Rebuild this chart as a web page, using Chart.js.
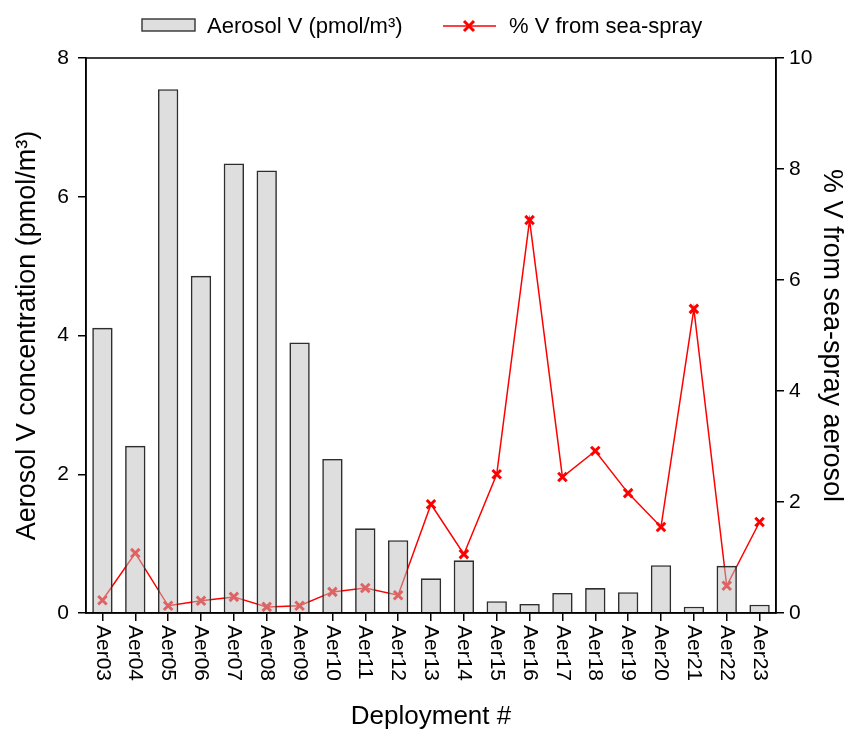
<!DOCTYPE html>
<html>
<head>
<meta charset="utf-8">
<script src="https://cdn.jsdelivr.net/npm/chart.js@4/dist/chart.umd.min.js"></script>
<style>
  html, body { margin: 0; padding: 0; background: #fff; }
  #wrap { width: 848px; height: 732px; }
</style>
</head>
<body>
<div id="wrap"><canvas id="vChart"></canvas></div>
<script>
const deployments = ['Aer03', 'Aer04', 'Aer05', 'Aer06', 'Aer07', 'Aer08', 'Aer09', 'Aer10', 'Aer11', 'Aer12',
    'Aer13', 'Aer14', 'Aer15', 'Aer16', 'Aer17', 'Aer18', 'Aer19', 'Aer20', 'Aer21', 'Aer22', 'Aer23'];
const aerosolV = [4.11, 2.41, 7.55, 4.86, 6.48, 6.38, 3.90, 2.22, 1.22, 1.05,
    0.50, 0.76, 0.17, 0.13, 0.29, 0.36, 0.30, 0.69, 0.09, 0.68, 0.12];
const seaSprayPct = [0.23, 1.08, 0.13, 0.22, 0.29, 0.11, 0.13, 0.38, 0.45, 0.32,
    1.96, 1.06, 2.50, 7.08, 2.45, 2.92, 2.16, 1.55, 5.48, 0.49, 1.64];
const leftTicks = [0, 2, 4, 6, 8];
const rightTicks = [0, 2, 4, 6, 8, 10];

const FONT = 'Arial, "Liberation Sans", sans-serif';

// draws the frame, the clockwise x labels and the legend
const extras = {
    id: 'extras',
    afterDraw(chart) {
        const c = chart.ctx;
        const a = chart.chartArea;
        const xs = chart.scales.x;
        c.save();
        c.strokeStyle = '#000';
        c.lineWidth = 1.5;
        c.strokeRect(a.left, a.top, a.right - a.left, a.bottom - a.top);

        c.fillStyle = '#000';
        c.font = '21px ' + FONT;
        c.textAlign = 'left';
        c.textBaseline = 'middle';
        deployments.forEach((lab, i) => {
            c.save();
            c.translate(xs.getPixelForTick(i), a.bottom + 12);
            c.rotate(Math.PI / 2);
            c.fillText(lab, 0, 0);
            c.restore();
        });

        // legend
        c.fillStyle = '#dedede';
        c.fillRect(142, 19, 53, 12);
        c.strokeStyle = '#333';
        c.lineWidth = 1.4;
        c.strokeRect(142, 19, 53, 12);
        c.fillStyle = '#000';
        c.font = '22px ' + FONT;
        c.fillText('Aerosol V (pmol/m\u00B3)', 207, 27);

        c.strokeStyle = '#ff0000';
        c.lineWidth = 1.5;
        c.beginPath();
        c.moveTo(443, 26);
        c.lineTo(496, 26);
        c.stroke();
        c.lineWidth = 3;
        c.beginPath();
        c.moveTo(464, 21); c.lineTo(474, 31);
        c.moveTo(474, 21); c.lineTo(464, 31);
        c.stroke();
        c.fillText('% V from sea-spray', 509, 27);
        c.restore();
    }
};

new Chart(document.getElementById('vChart'), {
    type: 'bar',
    data: {
        labels: deployments,
        datasets: [{
            label: 'Aerosol V (pmol/m\u00B3)',
            data: aerosolV,
            yAxisID: 'y',
            backgroundColor: 'rgba(192, 192, 192, 0.52)',
            borderColor: '#2e2e2e',
            borderWidth: 1.6,
            barPercentage: 0.62,
            categoryPercentage: 1.0,
            order: 1
        }, {
            type: 'line',
            label: '% V from sea-spray',
            data: seaSprayPct,
            yAxisID: 'y2',
            borderColor: '#ff0000',
            backgroundColor: '#ff0000',
            borderWidth: 1.5,
            pointStyle: 'crossRot',
            pointRadius: 6,
            pointBorderWidth: 3,
            pointBorderColor: '#ff0000',
            tension: 0,
            order: 2
        }]
    },
    options: {
        responsive: true,
        maintainAspectRatio: false,
        animation: false,
        layout: { padding: { top: 58, left: 0, right: 0, bottom: 0 } },
        plugins: {
            legend: { display: false },
            tooltip: { enabled: false }
        },
        scales: {
            x: {
                afterFit(s) { s.height = 119; },
                grid: { display: true, drawOnChartArea: false, offset: false, tickLength: 8, tickColor: '#000', lineWidth: 1.5 },
                border: { color: '#000', width: 1.5 },
                ticks: { display: false },
                title: { display: true, text: 'Deployment #', color: '#000', font: { family: FONT, size: 26 }, padding: { top: 0, bottom: 0 } }
            },
            y: {
                position: 'left',
                min: 0,
                max: 8,
                afterFit(s) { s.width = 86; },
                afterBuildTicks(s) { s.ticks = leftTicks.map(v => ({ value: v })); },
                grid: { drawOnChartArea: false, tickLength: 8, tickColor: '#000', lineWidth: 1.5 },
                border: { color: '#000', width: 1.5 },
                ticks: { color: '#000', padding: 9, font: { family: FONT, size: 21 } },
                title: { display: true, text: 'Aerosol V concentration (pmol/m\u00B3)', color: '#000', font: { family: FONT, size: 27 }, padding: { top: 11, bottom: 0 } }
            },
            y2: {
                position: 'right',
                min: 0,
                max: 10,
                afterFit(s) { s.width = 72; },
                afterBuildTicks(s) { s.ticks = rightTicks.map(v => ({ value: v })); },
                grid: { drawOnChartArea: false, tickLength: 8, tickColor: '#000', lineWidth: 1.5 },
                border: { color: '#000', width: 1.5 },
                ticks: { color: '#000', padding: 5, font: { family: FONT, size: 21 } },
                title: { display: true, text: '% V from sea-spray aerosol', color: '#000', font: { family: FONT, size: 27 }, padding: { top: 0, bottom: 0 } }
            }
        }
    },
    plugins: [extras]
});
</script>
</body>
</html>
